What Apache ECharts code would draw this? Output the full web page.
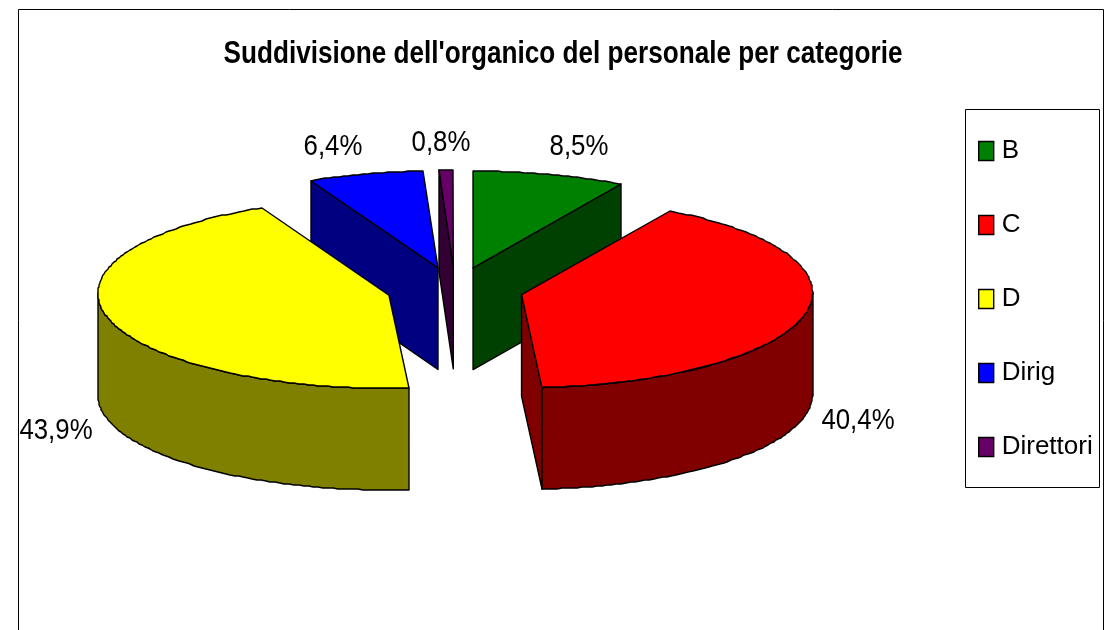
<!DOCTYPE html>
<html>
<head>
<meta charset="utf-8">
<style>
  html, body { margin: 0; padding: 0; background: #fff; }
  #chart { width: 1113px; height: 630px; }
</style>
<script src="https://cdn.jsdelivr.net/npm/echarts@6/dist/echarts.min.js"></script>
</head>
<body>
<div id="chart"></div>
<script>
// dati
const categories = ['B', 'C', 'D', 'Dirig', 'Direttori'];
const percentages = [8.5, 40.4, 43.9, 6.4, 0.8];
const topColors = ['#008000', '#ff0000', '#ffff00', '#0000ff', '#660066'];
const wallColors = ['#004000', '#800000', '#808000', '#000080', '#330033'];
const chartTitle = "Suddivisione dell'organico del personale per categorie";

// layout
const CX = 455, CY = 289.5, RX = 291, RY = 95;
const EXPLODE = 0.235;
const DEPTH = 1.07;
const RIM_LIFT = 0.02;
const labelPos = [[579, 147], [858, 421], [56, 431], [333, 147], [441, 143]];

const total = percentages.reduce((a, b) => a + b, 0);
const rad = (d) => (d * Math.PI) / 180;

// angoli di ogni fetta, in senso orario da ore 12
let acc = 0;
const spans = percentages.map((v) => {
  const start = (acc / total) * 360;
  acc += v;
  return [start, (acc / total) * 360];
});

// le fette dietro si disegnano prima
const rank = spans
  .map((s, i) => ({ i, back: Math.cos(rad((s[0] + s[1]) / 2)) }))
  .sort((a, b) => b.back - a.back)
  .reduce((out, o, pos) => { out[o.i] = pos; return out; }, {});

function renderSlice(params, api) {
  const i = params.seriesIndex;
  const s = api.value(0);
  const e = api.value(1);
  const mid = rad((s + e) / 2);
  const ox = EXPLODE * Math.sin(mid);
  const oy = EXPLODE * Math.cos(mid);
  const apex = (d) => api.coord([ox, oy - d]);
  const rim = (deg, d) => {
    const p = api.coord([ox + Math.sin(rad(deg)), oy + Math.cos(rad(deg)) + RIM_LIFT - d]);
    // bordo a piccoli gradini come nell'originale
    return [Math.round(p[0]), Math.round(p[1])];
  };
  const edge = { stroke: '#000', lineWidth: 1.4, lineJoin: 'round' };
  const children = [];

  const side = (deg) => ({
    type: 'polygon',
    shape: { points: [apex(0), rim(deg, 0), rim(deg, DEPTH), apex(DEPTH)] },
    style: { fill: wallColors[i], ...edge },
  });
  if (Math.sin(rad(s)) < -0.001) children.push(side(s));
  if (Math.sin(rad(e)) > 0.001) children.push(side(e));

  // parete esterna, solo la parte davanti
  const from = Math.max(s, 90);
  const to = Math.min(e, 270);
  if (from < to) {
    const up = [];
    const down = [];
    for (let t = from; ; t += 1) {
      const a = Math.min(t, to);
      up.push(rim(a, 0));
      down.unshift(rim(a, DEPTH));
      if (a === to) break;
    }
    children.push({
      type: 'polygon',
      shape: { points: up.concat(down) },
      style: { fill: wallColors[i], ...edge },
    });
  }

  const top = [apex(0)];
  for (let t = s; ; t += 1) {
    const a = Math.min(t, e);
    top.push(rim(a, 0));
    if (a === e) break;
  }
  children.push({
    type: 'polygon',
    shape: { points: top },
    style: { fill: topColors[i], ...edge },
  });

  children.push({
    type: 'text',
    x: labelPos[i][0],
    y: labelPos[i][1],
    scaleX: 0.86,
    style: {
      text: percentages[i].toFixed(1).replace('.', ',') + '%',
      fontFamily: 'Liberation Sans',
      fontSize: 30,
      fill: '#000',
      align: 'center',
      verticalAlign: 'middle',
    },
  });
  return { type: 'group', children };
}

const chart = echarts.init(document.getElementById('chart'));
chart.setOption({
  animation: false,
  backgroundColor: '#fff',
  grid: { left: CX - RX, top: CY - RY, width: 2 * RX, height: 2 * RY },
  xAxis: { type: 'value', min: -1, max: 1, show: false },
  yAxis: { type: 'value', min: -1, max: 1, show: false },
  legend: {
    data: categories,
    orient: 'vertical',
    left: 973,
    top: 133,
    padding: 5,
    icon: 'rect',
    itemWidth: 15,
    itemHeight: 19,
    itemGap: 48,
    itemStyle: { borderColor: '#000', borderWidth: 1.4 },
    textStyle: { fontFamily: 'Liberation Sans', fontSize: 26, color: '#000', padding: [0, 0, 0, 3] },
    selectedMode: false,
  },
  graphic: [
    {
      type: 'rect',
      shape: { x: 18.5, y: 9.5, width: 1085, height: 700 },
      style: { fill: 'none', stroke: '#000', lineWidth: 1 },
      z: 0,
    },
    {
      type: 'rect',
      shape: { x: 965.5, y: 109.5, width: 134, height: 378 },
      style: { fill: 'none', stroke: '#000', lineWidth: 1 },
      z: 0,
    },
    {
      type: 'text',
      x: 563,
      y: 54,
      scaleX: 0.817,
      style: {
        text: chartTitle,
        fontFamily: 'Liberation Sans',
        fontWeight: 'bold',
        fontSize: 32,
        fill: '#000',
        align: 'center',
        verticalAlign: 'middle',
      },
      z: 5,
    },
  ],
  series: categories.map((name, i) => ({
    name,
    type: 'custom',
    coordinateSystem: 'cartesian2d',
    renderItem: renderSlice,
    itemStyle: { color: topColors[i] },
    z: 2 + rank[i] / 10,
    silent: true,
    data: [spans[i]],
  })),
});
</script>
</body>
</html>
